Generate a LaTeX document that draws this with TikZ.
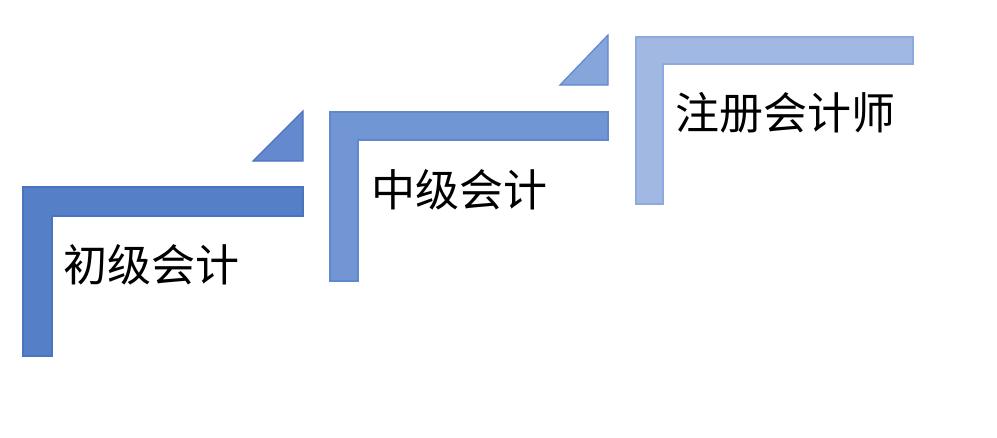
\documentclass[tikz,border=0pt]{standalone}
\usepackage{fontspec}
\newfontfamily\cjk{Noto Sans CJK SC}
\usepackage{tikz}
\usetikzlibrary{positioning}
\definecolor{stepA}{HTML}{5580C8}
\definecolor{stepAline}{HTML}{4A74C0}
\definecolor{triA}{HTML}{6489CE}
\definecolor{stepB}{HTML}{7196D3}
\definecolor{stepBline}{HTML}{6088CE}
\definecolor{triB}{HTML}{86A5DA}
\definecolor{stepC}{HTML}{A0B8E2}
\definecolor{stepCline}{HTML}{8CAADD}
\tikzset{
    stair/.style={line width=1.2pt, line join=miter},
    label/.style={inner sep=0pt, anchor=west, font=\cjk\fontsize{44}{44}\selectfont}
}

\begin{document}
\begin{tikzpicture}[x=1pt,y=-1pt]
\useasboundingbox (0,0) rectangle (997,437);
% steps
\filldraw[stair, fill=stepA, draw=stepAline] (23,187) -- (303,187) -- (303,216) -- (52,216) -- (52,356) -- (23,356) -- cycle;
\filldraw[stair, fill=stepB, draw=stepBline] (330,112) -- (608,112) -- (608,140) -- (358,140) -- (358,281) -- (330,281) -- cycle;
\filldraw[stair, fill=stepC, draw=stepCline] (636,37) -- (913,37) -- (913,64) -- (663,64) -- (663,204) -- (636,204) -- cycle;
% arrows between steps
\filldraw[stair, fill=triA, draw=stepAline] (253,161) -- (303,161) -- (303,111) -- cycle;
\filldraw[stair, fill=triB, draw=stepBline] (560,85) -- (608,85) -- (608,35) -- cycle;
% labels
\node[label] (junior) at (63,265) {初级会计};
\node[label] (middle) at (371,190) {中级会计};
\node[label] (cpa) at (675,113) {注册会计师};
\end{tikzpicture}
\end{document}
